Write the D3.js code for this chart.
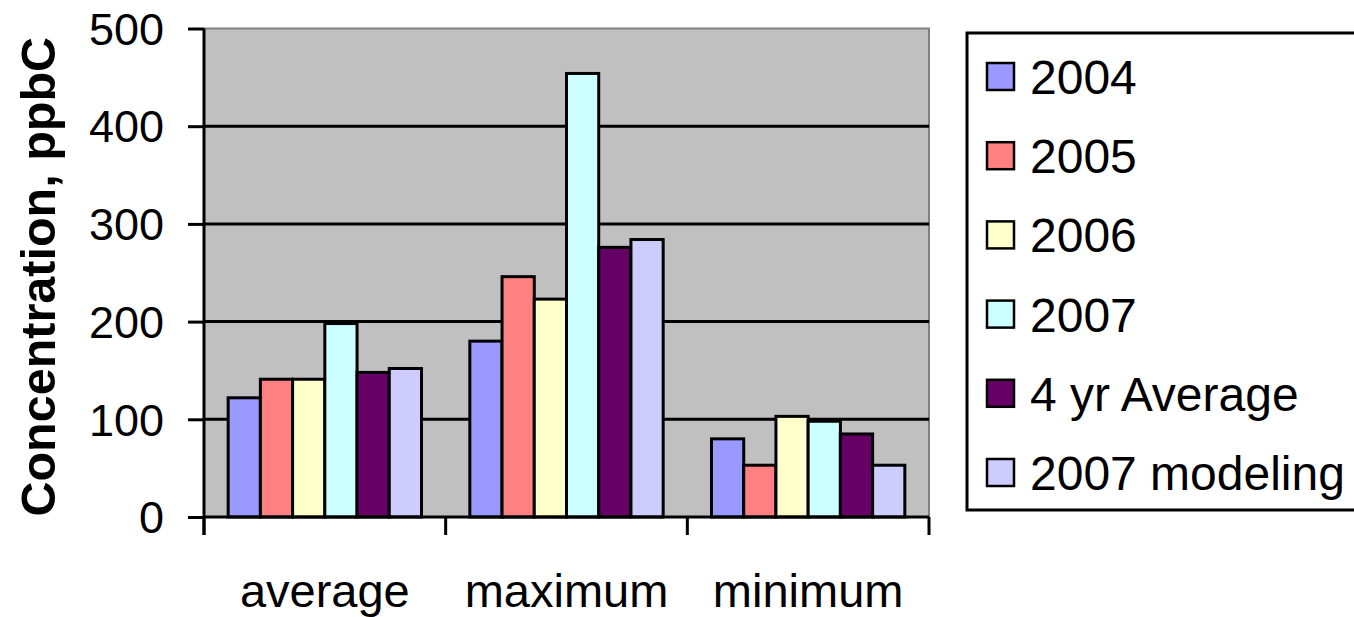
<!DOCTYPE html>
<html>
<head>
<meta charset="utf-8">
<script src="https://cdn.jsdelivr.net/npm/d3@7"></script>
<style>
  html, body { margin: 0; padding: 0; background: #fff; }
  svg { display: block; }
  text { font-family: "Liberation Sans", Arial, sans-serif; fill: #000; }
</style>
</head>
<body>
<svg id="chart" width="1354" height="617"></svg>
<script>
// Groups along the x axis
const categories = ["average", "maximum", "minimum"];
// Series (legend order)
const seriesNames = ["2004", "2005", "2006", "2007", "4 yr Average", "2007 modeling"];
const seriesColors = ["#9999FF", "#FF8080", "#FFFFCC", "#CCFFFF", "#660066", "#CCCCFF"];
// Values per series, in category order (average, maximum, minimum), ppbC
const s2004 = [122, 180, 80];
const s2005 = [141, 246, 53];
const s2006 = [141, 223, 103];
const s2007 = [198, 454, 98];
const s4yr = [148, 276, 85];
const s2007mod = [152, 284, 53];
const yTicks = [0, 100, 200, 300, 400, 500];

const seriesValues = [s2004, s2005, s2006, s2007, s4yr, s2007mod];

const svg = d3.select("#chart");
const plot = { left: 204, right: 929, top: 28.5, bottom: 517 };

const x = d3.scaleBand().domain(categories).range([plot.left, plot.right]).padding(0);
const xs = d3.scaleBand().domain(seriesNames).range([0, x.bandwidth()])
  .paddingInner(0).paddingOuter(0.75);
const y = d3.scaleLinear().domain([0, 500]).range([plot.bottom, plot.top]);

// Plot area background
svg.append("rect")
  .attr("x", plot.left).attr("y", plot.top)
  .attr("width", plot.right - plot.left).attr("height", plot.bottom - plot.top)
  .attr("fill", "#C0C0C0");
// Grey frame on top and right of the plot area
svg.append("path")
  .attr("d", `M${plot.left},${plot.top}H${plot.right}V${plot.bottom}`)
  .attr("fill", "none").attr("stroke", "#808080").attr("stroke-width", 2);

// Horizontal gridlines
svg.append("g")
  .selectAll("line")
  .data(yTicks.filter(d => d > 0 && d < 500))
  .join("line")
  .attr("x1", plot.left).attr("x2", plot.right)
  .attr("y1", d => y(d)).attr("y2", d => y(d))
  .attr("stroke", "#000").attr("stroke-width", 3);

// Bars
const rows = [];
seriesNames.forEach((name, si) => {
  categories.forEach((cat, ci) => {
    rows.push({ name, cat, value: seriesValues[si][ci], color: seriesColors[si] });
  });
});
svg.append("g")
  .selectAll("rect")
  .data(rows)
  .join("rect")
  .attr("x", d => x(d.cat) + xs(d.name))
  .attr("y", d => y(d.value))
  .attr("width", xs.bandwidth())
  .attr("height", d => y(0) - y(d.value))
  .attr("fill", d => d.color)
  .attr("stroke", "#000").attr("stroke-width", 3);

// Y axis
const yAxis = svg.append("g")
  .attr("transform", `translate(${plot.left},0)`)
  .call(d3.axisLeft(y).tickValues(yTicks).tickSize(16).tickPadding(24));
yAxis.select(".domain").attr("stroke-width", 3).attr("d", `M0,${plot.top}V535`);
yAxis.selectAll(".tick line").attr("stroke-width", 3);
yAxis.selectAll(".tick text")
  .style("font-size", "45px").style("font-family", "'Liberation Sans', Arial, sans-serif")
  .attr("dy", "0.35em");

// X axis
const xAxis = svg.append("g")
  .attr("transform", `translate(0,${plot.bottom})`)
  .call(d3.axisBottom(x).tickSize(0).tickPadding(57));
xAxis.select(".domain").attr("stroke-width", 3).attr("d", `M${plot.left},0H${plot.right}`);
xAxis.selectAll(".tick text")
  .style("font-size", "47px").style("font-family", "'Liberation Sans', Arial, sans-serif");
// Category separators below the axis
const bounds = categories.map(c => x(c)).concat([x(categories[categories.length - 1]) + x.bandwidth()]);
xAxis.append("g").selectAll("line")
  .data(bounds)
  .join("line")
  .attr("x1", d => d).attr("x2", d => d)
  .attr("y1", 0).attr("y2", 18)
  .attr("stroke", "#000").attr("stroke-width", 3);

// Y axis title
svg.append("text")
  .attr("transform", `translate(55,${(plot.top + plot.bottom) / 2 + 4}) rotate(-90)`)
  .attr("text-anchor", "middle")
  .style("font-size", "48.5px").style("font-weight", "bold")
  .text("Concentration, ppbC");

// Legend
const legend = svg.append("g");
legend.append("rect")
  .attr("x", 967).attr("y", 33).attr("width", 420).attr("height", 477)
  .attr("fill", "#fff").attr("stroke", "#000").attr("stroke-width", 3);
const items = legend.selectAll("g.item")
  .data(seriesNames)
  .join("g")
  .attr("class", "item")
  .attr("transform", (d, i) => `translate(987,${63 + i * 79.2})`);
items.append("rect")
  .attr("width", 27).attr("height", 27)
  .attr("fill", (d, i) => seriesColors[i])
  .attr("stroke", "#000").attr("stroke-width", 2.5);
items.append("text")
  .attr("x", 43).attr("y", 31)
  .style("font-size", "48px")
  .text(d => d);
</script>
</body>
</html>
